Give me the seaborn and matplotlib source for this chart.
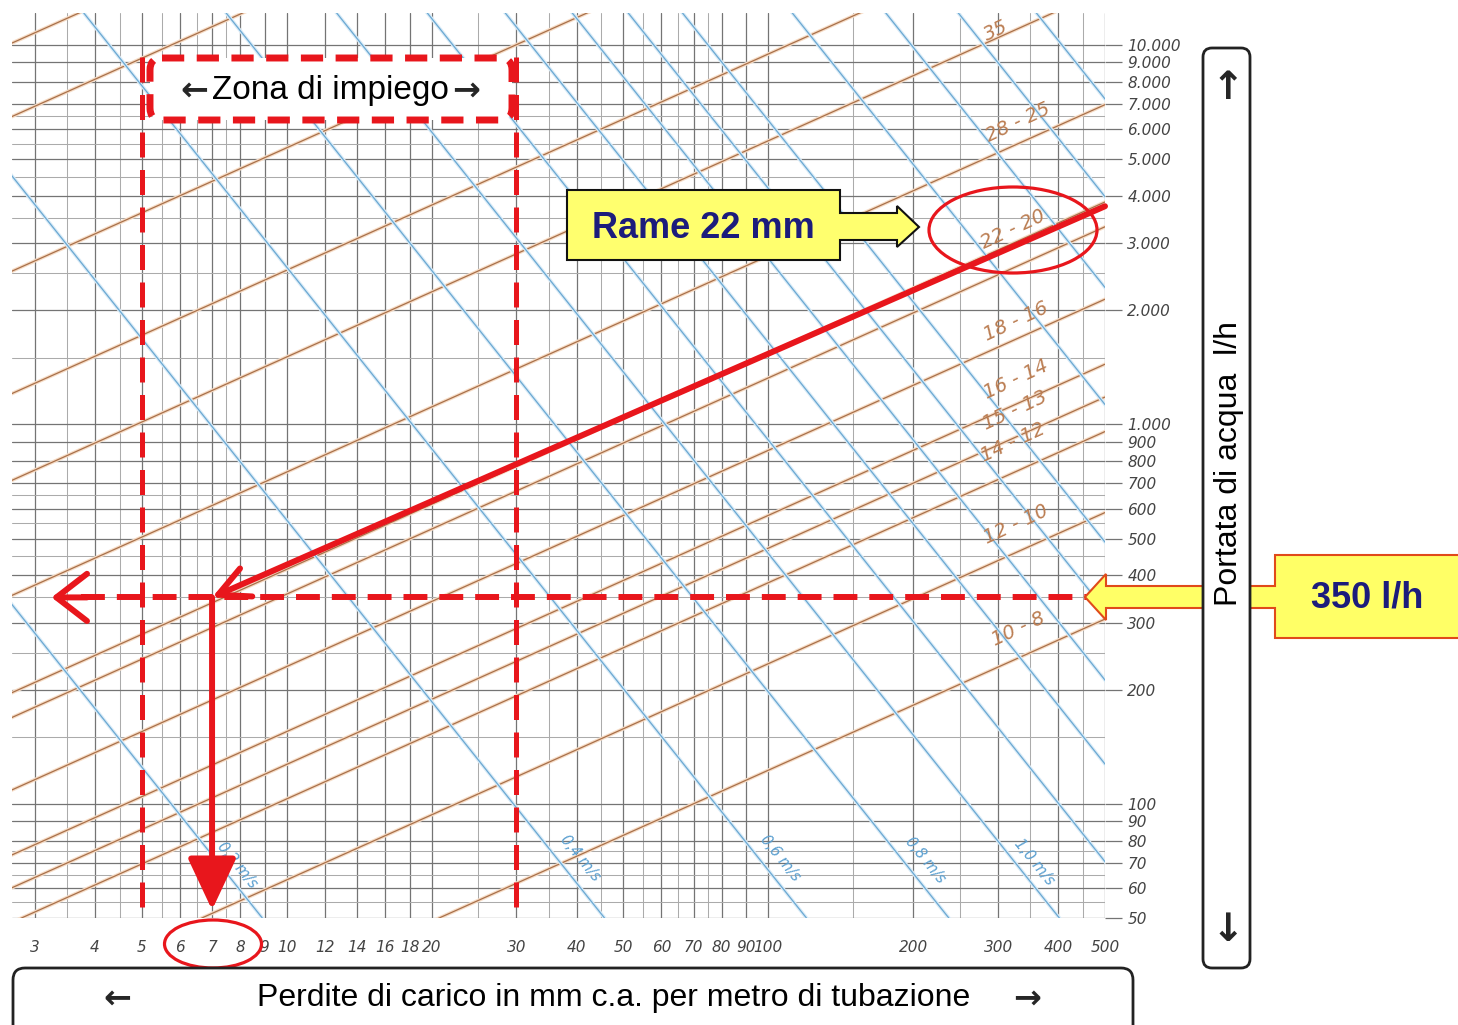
import matplotlib
matplotlib.use("Agg")
import numpy as np
import pandas as pd
import matplotlib.pyplot as plt
import seaborn as sns
from matplotlib.patches import Polygon, FancyBboxPatch, Ellipse
from matplotlib.ticker import NullFormatter

sns.set_style("white")
plt.rcParams['font.family'] = ['Liberation Sans', 'DejaVu Sans']
NARROW = ['Liberation Sans Narrow', 'Liberation Sans', 'DejaVu Sans']

# %% data
x_major = [3, 4, 5, 6, 7, 8, 9, 10, 12, 14, 16, 18, 20, 30, 40, 50, 60, 70, 80, 90,
           100, 200, 300, 400, 500]
x_minor = [3.5, 4.5, 5.5, 6.5, 7.5, 25, 35, 45, 55, 65, 75, 150, 250, 350, 450]
y_major = [50, 60, 70, 80, 90, 100, 200, 300, 400, 500, 600, 700, 800, 900, 1000,
           2000, 3000, 4000, 5000, 6000, 7000, 8000, 9000, 10000]
y_minor = [55, 65, 75, 150, 250, 350, 450, 550, 650, 1500, 2500, 3500, 4500, 5500, 6500]

# copper pipes: flow (l/h) at 10 mm/m, constant log-slope
pipe_q10 = [21400, 13700, 5360, 2550, 1506, 749, 415, 357, 230, 155, 127, 103, 63, 33]
pipe_slope = 0.57
pipe_labels = ['35', '28 - 25', '22 - 20', '18 - 16', '16 - 14', '15 - 13',
               '14 - 12', '12 - 10', '10 - 8']
pipe_label_j = [297, 330, 322, 327, 327, 325, 322, 327, 330]
pipe_label_q = [10900, 6270, 3270, 1870, 1315, 1089, 897, 545, 288]

# velocity lines: head loss where each line meets 50 l/h
vel_values = [0.2, 0.4, 0.6, 0.8, 1.0, 1.2, 1.4, 1.6, 1.8, 2.0, 2.5, 3.0, 3.5, 4.0]
vel_j50 = [8.9, 45.7, 120, 237, 402, 620, 900, 1240, 1620, 2100, 3550, 5550, 7850, 11400]
vel_slope = -1.59
vel_labels = ['0,2 m/s', '0,4 m/s', '0,6 m/s', '0,8 m/s', '1,0 m/s']
vel_label_j = [7.9, 40.7, 106, 212, 356]
vel_label_q = [69, 72, 72, 71, 70]

# reading example: copper 22 mm, 350 l/h -> 7 mm/m
flow_read = 350
loss_read = 7
path_j = [500, 7]
path_q = [3760, 350]
zone_j = [5, 30]

# %% figure
W, H = 1458, 1025
fig = plt.figure(figsize=(W / 100, H / 100), dpi=100)
ax = fig.add_axes([12 / W, 1 - 918 / H, (1105 - 12) / W, (918 - 13) / H])
ax.set(xscale='log', yscale='log')

brown, blue, red = '#a8704a', '#6aa8d2', '#e8161c'
jj = [2.5, 600]
pipes = pd.DataFrame([(i, j, q * (j / 10) ** pipe_slope)
                      for i, q in enumerate(pipe_q10) for j in jj],
                     columns=['line', 'J', 'Q'])
vels = pd.DataFrame([(v, j, 50 * (j / j50) ** vel_slope)
                     for v, j50 in zip(vel_values, vel_j50) for j in jj],
                    columns=['v', 'J', 'Q'])

for df, unit, col, halo in [(pipes, 'line', brown, '#f6dcc6'), (vels, 'v', blue, '#d9ebf7')]:
    sns.lineplot(data=df, x='J', y='Q', units=unit, estimator=None, sort=False,
                 color=halo, lw=2.6, legend=False, ax=ax)
    sns.lineplot(data=df, x='J', y='Q', units=unit, estimator=None, sort=False,
                 color=col, lw=0.9, legend=False, ax=ax)

for t, j, q in zip(pipe_labels, pipe_label_j, pipe_label_q):
    ax.text(j, q, t, color='#bb7d52', fontsize=14, style='italic', rotation=25,
            rotation_mode='anchor', ha='center', va='center', family='DejaVu Sans')
for t, j, q in zip(vel_labels, vel_label_j, vel_label_q):
    ax.text(j, q, t, color='#5a9fd0', fontsize=10.5, style='italic', rotation=-51,
            rotation_mode='anchor', ha='center', va='center', family='DejaVu Sans')

ax.set_xlim(2.69, 500)
ax.set_ylim(50, 12150)
ax.set_xticks(x_major, labels=[str(v) for v in x_major])
ax.set_yticks(y_major, labels=[f'{v:,}'.replace(',', '.') for v in y_major])
ax.set_xticks(x_minor, minor=True)
ax.set_yticks(y_minor, minor=True)
ax.xaxis.set_minor_formatter(NullFormatter())
ax.yaxis.set_minor_formatter(NullFormatter())
ax.yaxis.tick_right()
ax.set_axisbelow(True)
ax.grid(which='major', color='#747474', lw=0.9)
ax.grid(which='minor', color='#ababab', lw=0.75)
ax.tick_params(which='major', length=12, width=0.9, color='#747474', labelsize=11,
               labelcolor='#444444', pad=4)
ax.tick_params(which='minor', length=0)
for lbl in ax.get_xticklabels() + ax.get_yticklabels():
    lbl.set_fontstyle('italic')
    lbl.set_family('DejaVu Sans')
for s in ax.spines.values():
    s.set_visible(False)
ax.set_xlabel('')
ax.set_ylabel('')

# reading path
for j in zone_j:
    ax.plot([j, j], [9300, 50], color=red, lw=3.6, ls=(0, (5, 2.5)), zorder=6)
ax.plot([3.75, 468], [flow_read, flow_read], color=red, lw=4.3, ls=(0, (4, 2)), zorder=6)
ax.annotate('', xy=(3.25, flow_read), xytext=(3.85, flow_read), zorder=7,
            arrowprops=dict(arrowstyle='->,head_length=1.1,head_width=0.85', color=red,
                            lw=4.3, shrinkA=0, shrinkB=0, mutation_scale=20))
ax.annotate('', xy=(loss_read, flow_read), xytext=(path_j[0], path_q[0]), zorder=7,
            annotation_clip=False,
            arrowprops=dict(arrowstyle='->,head_length=1.1,head_width=0.55', color=red,
                            lw=4.3, shrinkA=0, shrinkB=0, mutation_scale=20))
ax.annotate('', xy=(loss_read, 52.5), xytext=(loss_read, flow_read), zorder=7,
            arrowprops=dict(arrowstyle='-|>,head_length=1.6,head_width=0.75', color=red,
                            lw=4.3, shrinkA=0, shrinkB=0, mutation_scale=20))

# %% overlay in pixel units for the call-outs
ov = fig.add_axes([0, 0, 1, 1], zorder=5)
ov.set_xlim(0, W)
ov.set_ylim(H, 0)
ov.axis('off')

ov.add_patch(FancyBboxPatch((150, 58), 362, 62, boxstyle='round,pad=0,rounding_size=12',
                            fc='white', ec=red, lw=5, ls=(0, (3.2, 1.8))))
ov.text(330, 90, 'Zona di impiego', ha='center', va='center', fontsize=24,
        family=NARROW, color='black')
ov.text(194, 90, '←', ha='center', va='center', fontsize=24, weight='bold',
        family='DejaVu Sans')
ov.text(466, 90, '→', ha='center', va='center', fontsize=24, weight='bold',
        family='DejaVu Sans')

rame = [(567, 190), (840, 190), (840, 213), (897, 213), (897, 206), (919, 227),
        (897, 247), (897, 240), (840, 240), (840, 260), (567, 260)]
ov.add_patch(Polygon(rame, closed=True, fc='#ffff6e', ec='#111111', lw=1.5))
ov.text(703, 228, 'Rame 22 mm', ha='center', va='center', fontsize=26, weight='bold',
        family=NARROW, color='#1c1c7c')

ov.add_patch(Ellipse((1013, 230), 168, 86, fill=False, ec=red, lw=2.3))
ov.add_patch(Ellipse((213, 944), 97, 48, fill=False, ec=red, lw=2.3))

flow_tag = [(1470, 555), (1275, 555), (1275, 586), (1106, 586), (1106, 574), (1085, 597),
            (1106, 620), (1106, 608), (1275, 608), (1275, 638), (1470, 638)]
ov.add_patch(Polygon(flow_tag, closed=True, fc='#ffff66', ec='#e04a1a', lw=1.5))
ov.text(1367, 598, '350 l/h', ha='center', va='center', fontsize=26, weight='bold',
        family=NARROW, color='#1c1c7c')

ov.add_patch(FancyBboxPatch((1203, 48), 47, 920, boxstyle='round,pad=0,rounding_size=9',
                            fc='white', ec='#222222', lw=2))
ov.text(1229, 464, 'Portata di acqua  l/h', rotation=90, ha='center', va='center',
        fontsize=23, color='black')
ov.text(1228, 88, '↑', ha='center', va='center', fontsize=28, weight='bold',
        family='DejaVu Sans')
ov.text(1228, 930, '↓', ha='center', va='center', fontsize=28, weight='bold',
        family='DejaVu Sans')

ov.add_patch(FancyBboxPatch((13, 968), 1120, 80, boxstyle='round,pad=0,rounding_size=12',
                            fc='white', ec='#222222', lw=2))
ov.text(614, 998, 'Perdite di carico in mm c.a. per metro di tubazione', ha='center',
        va='center', fontsize=23, color='black')
ov.text(117, 998, '←', ha='center', va='center', fontsize=24, weight='bold',
        family='DejaVu Sans')
ov.text(1027, 998, '→', ha='center', va='center', fontsize=24, weight='bold',
        family='DejaVu Sans')

fig.savefig('out.png', dpi=100)
